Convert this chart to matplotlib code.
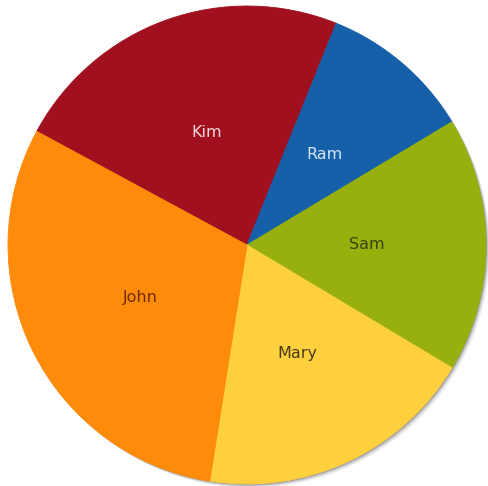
import matplotlib
matplotlib.use("Agg")
import matplotlib.pyplot as plt
from matplotlib.patches import Circle

# Slice data, listed clockwise starting from the upper-left boundary
names = ["Kim", "Ram", "Sam", "Mary", "John"]
values = [23.2, 10.3, 17.2, 18.9, 30.4]
colors = ["#A1101F", "#1560A9", "#97B00D", "#FFD03E", "#FF8B0B"]
label_colors = ["#F4D6DE", "#D6E4F2", "#3B4210", "#4A3A12", "#6A2C05"]

W, H = 488, 486
fig = plt.figure(figsize=(W / 100, H / 100), dpi=100)
ax = fig.add_axes([0, 0, 1, 1])
ax.set_xlim(0, W)
ax.set_ylim(0, H)
ax.set_aspect("equal")
ax.axis("off")

cx, cy, r = 247, 241, 239

# soft drop shadow toward the lower right
for dx, a in [(4, 0.08), (3, 0.12), (2, 0.2), (1, 0.35)]:
    ax.add_patch(Circle((cx + dx, cy - dx), r, facecolor="#555555",
                        edgecolor="none", alpha=a, zorder=1))

wedges, texts = ax.pie(
    values, labels=names, colors=colors, startangle=151.6,
    counterclock=False, center=(cx, cy), radius=r, labeldistance=0.5,
    wedgeprops=dict(linewidth=0.6),
    textprops=dict(fontsize=11.5, ha="center", va="center", family="DejaVu Sans"),
    frame=True,
)
for w, c in zip(wedges, colors):
    w.set_edgecolor(c)
    w.set_zorder(2)
for t, c in zip(texts, label_colors):
    t.set_color(c)
    t.set_zorder(3)

ax.set_xlim(0, W)
ax.set_ylim(0, H)
ax.axis("off")
fig.savefig("out.png", dpi=100)
